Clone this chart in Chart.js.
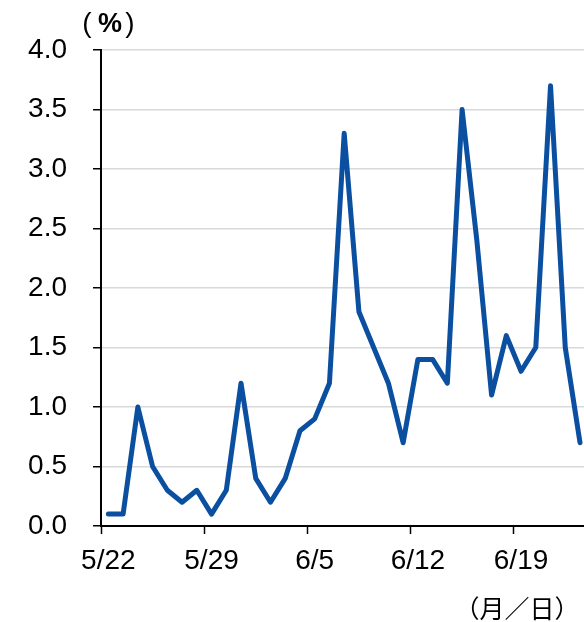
<!DOCTYPE html>
<html>
<head>
<meta charset="utf-8">
<style>
  html, body { margin: 0; padding: 0; background: #fff; overflow: hidden; }
  #wrap { width: 584px; height: 622px; position: relative; overflow: hidden; }
</style>
<script src="https://cdn.jsdelivr.net/npm/chart.js@4"></script>
</head>
<body>
<div id="wrap"><canvas id="c" width="590" height="622"></canvas></div>
<script>
// Daily dates, 5/22 to 6/23
const dates = [
  '5/22', '5/23', '5/24', '5/25', '5/26', '5/27', '5/28',
  '5/29', '5/30', '5/31', '6/1', '6/2', '6/3', '6/4',
  '6/5', '6/6', '6/7', '6/8', '6/9', '6/10', '6/11',
  '6/12', '6/13', '6/14', '6/15', '6/16', '6/17', '6/18',
  '6/19', '6/20', '6/21', '6/22', '6/23'
];

// Daily rate (%)
const rates = [
  0.1, 0.1, 1.0, 0.5, 0.3, 0.2, 0.3,
  0.1, 0.3, 1.2, 0.4, 0.2, 0.4, 0.8,
  0.9, 1.2, 3.3, 1.8, 1.5, 1.2, 0.7,
  1.4, 1.4, 1.2, 3.5, 2.4, 1.1, 1.6,
  1.3, 1.5, 3.7, 1.5, 0.7
];

// Labelled x ticks (one per week)
const weekLabels = ['5/22', '5/29', '6/5', '6/12', '6/19'];

// Y axis range
const yMin = 0;
const yMax = 4;
const yStep = 0.5;

const FONT = '"Liberation Sans", Arial, sans-serif';
const CJK = '"Noto Sans CJK JP", "Noto Sans CJK SC", sans-serif';

// Unit captions drawn around the plot
const unitCaptions = {
  id: 'unitCaptions',
  afterDraw(chart) {
    const ctx = chart.ctx;
    ctx.save();
    ctx.fillStyle = '#000';
    ctx.textBaseline = 'middle';
    ctx.textAlign = 'center';
    // (%) above the value axis
    ctx.font = '28px ' + FONT;
    ctx.fillText('(', 87, 24);
    ctx.fillText(')', 130, 24);
    ctx.font = 'bold 27px ' + FONT;
    ctx.fillText('%', 110, 25);
    // (月／日) below the date axis
    ctx.font = '25px ' + CJK;
    ctx.fillText('（月／日）', 517, 608);
    ctx.restore();
  }
};

new Chart(document.getElementById('c'), {
  type: 'line',
  data: {
    labels: dates,
    datasets: [{
      data: rates,
      borderColor: '#0b50a0',
      borderWidth: 5,
      borderJoinStyle: 'round',
      borderCapStyle: 'round',
      tension: 0,
      pointRadius: 0,
      fill: false
    }]
  },
  options: {
    responsive: false,
    animation: false,
    events: [],
    layout: { padding: { top: 50, right: -2, bottom: 0, left: 0 } },
    plugins: {
      legend: { display: false },
      tooltip: { enabled: false }
    },
    scales: {
      x: {
        type: 'category',
        offset: true,
        afterFit(scale) { scale.height = 96; },
        border: { display: true, color: '#000', width: 2 },
        grid: {
          offset: true,
          drawOnChartArea: false,
          drawTicks: true,
          tickLength: 8,
          tickWidth: 1.5,
          tickColor: (ctx) => (ctx.index % 7 === 0 && ctx.index < dates.length) ? '#000' : 'rgba(0,0,0,0)'
        },
        ticks: {
          autoSkip: false,
          maxRotation: 0,
          minRotation: 0,
          padding: 10,
          color: '#000',
          font: { family: FONT, size: 28 },
          callback(value, index) {
            const lab = dates[index];
            return weekLabels.includes(lab) ? lab : '';
          }
        }
      },
      y: {
        min: yMin,
        max: yMax,
        afterFit(scale) { scale.width = 101; },
        border: { display: true, color: '#000', width: 2 },
        grid: {
          color: '#d9d9d9',
          lineWidth: 1.5,
          tickColor: '#000',
          tickLength: 8,
          tickWidth: 1.5
        },
        ticks: {
          stepSize: yStep,
          padding: 26,
          color: '#000',
          font: { family: FONT, size: 28 },
          callback: (v) => Number(v).toFixed(1)
        }
      }
    }
  },
  plugins: [unitCaptions]
});
</script>
</body>
</html>
